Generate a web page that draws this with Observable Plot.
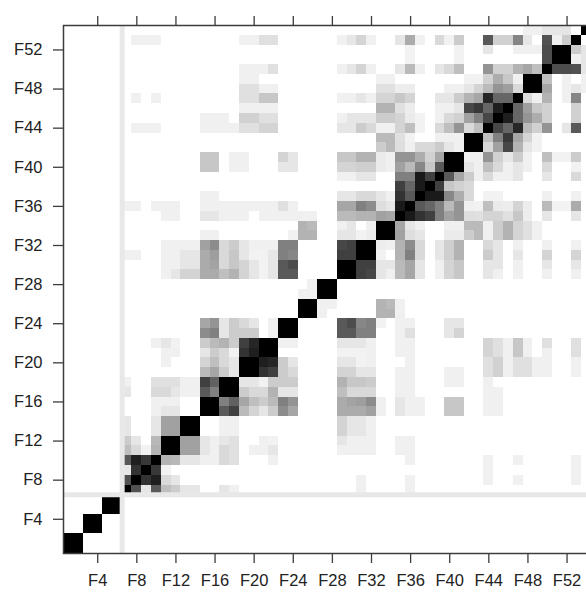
<!DOCTYPE html>
<html><head><meta charset="utf-8">
<script src="https://cdn.jsdelivr.net/npm/d3@7"></script>
<script src="https://cdn.jsdelivr.net/npm/@observablehq/plot@0.6"></script>
<style>html,body{margin:0;padding:0;background:#fff}svg{display:block}
g[aria-label="rect"]{filter:blur(.55px)}</style></head><body><div id="c"></div><script>
const nVars = 54;
const tickVals = [4,8,12,16,20,24,28,32,36,40,44,48,52];
// groups of identical variables (on the diagonal every variable = 1)
// [column, value, column, value, ...] for every row: columns below the diagonal
const r2=[1,1], r4=[3,1], r6=[5,1];
const r7=[];
const r8=[7,.68];
const r9=[7,.1,8,.8];
const r10=[7,.65,8,.88,9,.78];
const r11=[7,.25,8,.15,9,.05,10,.3];
const r12=[7,.2,8,.1,10,.28,11,1];
const r13=[7,.1,10,.1,11,.37,12,.37];
const r14=[7,.1,10,.1,11,.37,12,.37,13,1];
const r15=[10,.06,11,.1,12,.1];
const r16=[10,.06,11,.06,12,.06,15,1];
const r17=[7,.1,10,.15,11,.15,12,.1,13,.06,14,.06,15,.65,16,.5];
const r18=[7,.06,10,.12,11,.12,12,.12,13,.06,14,.06,15,.75,16,.62,17,1];
const r19=[15,.27,16,.35,17,.2,18,.1];
const r20=[11,.06,15,.17,16,.25,17,.15,18,.1,19,1];
const r21=[11,.06,12,.06,15,.1,16,.2,17,.15,18,.05,19,.8,20,.88];
const r22=[10,.06,11,.1,12,.05,15,.2,16,.27,17,.3,18,.2,19,.75,20,.85,21,1];
const r23=[15,.45,16,.5,17,.1,18,.2,19,.2,20,.2,22,.06];
const r24=[15,.35,16,.42,17,.1,18,.2,19,.15,20,.1,22,.06,23,1];
const r25=[];
const r26=[25,1];
const r27=[25,.06,26,.06];
const r28=[26,.06,27,1];
const r29=[11,.06,12,.1,13,.17,14,.17,15,.33,16,.33,17,.25,18,.3,19,.17,20,.1,21,.05,22,.1,23,.65,24,.65];
const r30=[11,.06,12,.06,13,.1,14,.1,15,.33,16,.36,17,.15,18,.22,19,.17,20,.1,21,.05,22,.1,23,.65,24,.7,29,1];
const r31=[7,.06,8,.06,11,.06,12,.06,13,.1,14,.1,15,.33,16,.38,17,.15,18,.22,19,.1,20,.05,21,.05,22,.1,23,.5,24,.47,29,.75,30,.75];
const r32=[11,.06,12,.06,13,.06,14,.06,15,.37,16,.45,17,.15,18,.2,19,.1,20,.06,21,.06,22,.06,23,.5,24,.5,29,.72,30,.75,31,1];
const r33=[15,.06,16,.06,24,.05,25,.3,26,.3,29,.1,30,.1,31,.05,32,.07];
const r34=[25,.3,26,.27,29,.06,30,.1,32,.06,33,1];
const r35=[11,.06,12,.06,15,.1,16,.1,17,.06,18,.06,19,.06,21,.06,22,.06,23,.06,24,.06,25,.06,26,.06,29,.27,30,.27,31,.3,32,.3,33,.37,34,.35];
const r36=[7,.06,8,.06,10,.06,11,.06,12,.06,15,.06,16,.06,17,.06,18,.06,19,.06,20,.06,21,.06,22,.06,23,.12,24,.06,29,.35,30,.35,31,.5,32,.45,33,.13,34,.1,35,.9];
const r37=[15,.06,16,.06,29,.1,30,.1,31,.15,32,.15,33,.1,34,.06,35,.8,36,.65];
const r38=[35,.75,36,.6,37,.9];
const r39=[29,.06,30,.06,31,.1,32,.1,35,.5,36,.5,37,.9,38,.75];
const r40=[15,.22,16,.22,18,.06,19,.06,23,.1,24,.1,29,.17,30,.17,31,.19,32,.19,33,.08,34,.06,35,.37,36,.27,37,.47,38,.22,39,.65];
const r41=[15,.22,16,.22,18,.06,19,.06,23,.17,24,.1,29,.22,30,.22,31,.3,32,.3,33,.08,34,.06,35,.42,36,.42,37,.32,38,.18,39,.35,40,1];
const r42=[33,.2,34,.27,35,.13,36,.06,37,.15,38,.15,39,.2,40,.1,41,.06];
const r43=[33,.27,34,.27,35,.12,36,.05,39,.06,40,.06,41,.06,42,1];
const r44=[8,.06,9,.06,10,.06,15,.06,16,.06,17,.06,18,.06,19,.12,20,.12,21,.17,22,.17,29,.1,30,.1,31,.2,32,.15,33,.06,34,.06,35,.17,36,.25,37,.05,39,.15,40,.25,41,.42,42,.15,43,.25];
const r45=[15,.06,16,.06,17,.06,19,.18,20,.18,21,.12,22,.12,29,.06,30,.1,31,.1,32,.1,33,.2,34,.2,35,.17,36,.08,37,.05,39,.06,40,.15,41,.18,42,.37,43,.5,44,.72];
const r46=[19,.06,20,.06,21,.06,22,.06,33,.3,34,.3,35,.12,36,.07,39,.06,40,.06,41,.1,42,.72,43,.78,44,.6,45,.88];
const r47=[8,.06,10,.06,19,.12,20,.12,21,.22,22,.22,29,.06,30,.06,31,.1,32,.06,33,.17,34,.17,35,.22,36,.17,39,.1,40,.1,41,.2,42,.3,43,.35,44,.85,45,.6,46,.6];
const r48=[19,.12,20,.12,21,.06,22,.06,33,.12,34,.12,35,.07,36,.07,40,.06,41,.06,42,.1,43,.17,44,.27,45,.42,46,.38,47,.15];
const r49=[19,.06,20,.06,33,.06,34,.06,42,.05,43,.05,44,.18,45,.32,46,.22,47,.06,48,1];
const r50=[19,.06,20,.06,21,.06,22,.12,29,.06,30,.1,31,.17,32,.06,35,.1,36,.27,37,.06,39,.1,40,.15,41,.25,44,.42,45,.18,46,.18,47,.3,48,.35,49,.25];
const r51=[36,.05,41,.05,50,.7];
const r52=[36,.05,41,.05,44,.1,47,.06,48,.06,49,.06,50,.7,51,1];
const r53=[8,.06,9,.06,10,.06,19,.06,20,.06,21,.12,22,.12,29,.06,30,.1,31,.17,32,.06,35,.1,36,.33,37,.06,39,.15,40,.05,41,.2,44,.65,45,.18,46,.18,47,.48,48,.1,50,.68,51,.06,52,.2];
const r54=[48,.06,49,.06,50,.1,51,.1,52,.1];
const lowerRows = {2:r2,4:r4,6:r6,7:r7,8:r8,9:r9,10:r10,11:r11,12:r12,13:r13,14:r14,15:r15,16:r16,17:r17,18:r18,19:r19,20:r20,21:r21,22:r22,23:r23,24:r24,25:r25,26:r26,27:r27,28:r28,29:r29,30:r30,31:r31,32:r32,33:r33,34:r34,35:r35,36:r36,37:r37,38:r38,39:r39,40:r40,41:r41,42:r42,43:r43,44:r44,45:r45,46:r46,47:r47,48:r48,49:r49,50:r50,51:r51,52:r52,53:r53,54:r54};

const cells = [];
for (let k = 1; k <= nVars; k++) cells.push({row:k, col:k, v:1});
for (const [row, list] of Object.entries(lowerRows)) {
  for (let i = 0; i < list.length; i += 2) {
    cells.push({row:+row, col:list[i], v:list[i+1]});
    cells.push({row:list[i], col:+row, v:list[i+1]});
  }
}
const fmt = d => "F" + d;
const font = {fontFamily:'"Liberation Sans",Arial,sans-serif', fontSize:16.5};
const plot = Plot.plot({
  width:586, height:592,
  marginLeft:63, marginRight:-5, marginTop:25, marginBottom:39,
  x:{type:"linear", domain:[.5,54.5]},
  y:{type:"linear", domain:[.5,54.5]},
  color:{type:"linear", domain:[0,1], range:["#ffffff","#000000"]},
  style:{background:"#fff"},
  marks:[
    Plot.rect(cells, {x1:d=>d.col-.5, x2:d=>d.col+.5, y1:d=>d.row-.5, y2:d=>d.row+.5, fill:"v", shapeRendering:"crispEdges"}),
    Plot.ruleX([6.5], {stroke:"#e8e8e8", strokeWidth:5}),
    Plot.ruleY([6.5], {stroke:"#e8e8e8", strokeWidth:5}),
    Plot.frame({stroke:"#3c3c3c", strokeWidth:1.5}),
    Plot.axisX(tickVals, {anchor:"bottom", tickSize:10, tickPadding:11, tickFormat:fmt, stroke:"#3c3c3c", strokeWidth:1.3, label:null, ...font, fill:"#222"}),
    Plot.axisX(tickVals, {anchor:"top", tickSize:10, tickFormat:null, text:null, stroke:"#3c3c3c", strokeWidth:1.3, label:null}),
    Plot.axisY(tickVals, {anchor:"left", tickSize:10, tickPadding:11, tickFormat:fmt, stroke:"#3c3c3c", strokeWidth:1.3, label:null, ...font, fill:"#222"})
  ]
});
document.getElementById("c").appendChild(plot);
</script></body></html>
